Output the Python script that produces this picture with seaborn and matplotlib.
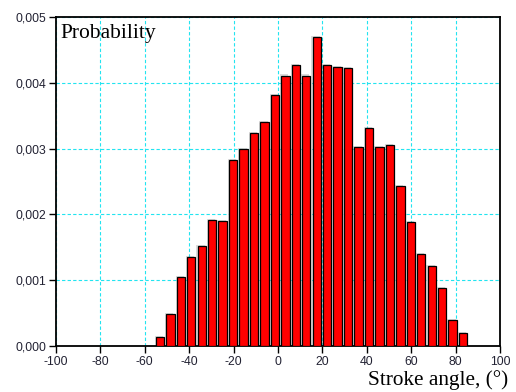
import matplotlib
matplotlib.use("Agg")
import matplotlib.pyplot as plt
import matplotlib.patheffects as pe
import seaborn as sns
import pandas as pd
from matplotlib.ticker import FuncFormatter

# Data (bin centers in degrees, probability)
angles = [-53.2, -48.49, -43.78, -39.07, -34.36, -29.65, -24.94, -20.23, -15.52, -10.81,
          -6.10, -1.39, 3.32, 8.03, 12.74, 17.45, 22.16, 26.87, 31.58, 36.29,
          41.00, 45.71, 50.42, 55.13, 59.84, 64.55, 69.26, 73.97, 78.68, 83.39]
probability = [0.000132, 0.00048, 0.00105, 0.00135, 0.00152, 0.00192, 0.00190, 0.00283, 0.00299, 0.00324,
               0.00340, 0.00382, 0.00411, 0.00427, 0.00411, 0.00469, 0.00427, 0.00424, 0.00422, 0.00302,
               0.00331, 0.00302, 0.00306, 0.00243, 0.00188, 0.00140, 0.00121, 0.00088, 0.00040, 0.000197]
x_ticks = [-100, -80, -60, -40, -20, 0, 20, 40, 60, 80, 100]
y_ticks = [0.000, 0.001, 0.002, 0.003, 0.004, 0.005]

df = pd.DataFrame({"angle": angles, "prob": probability})

sns.set_style("white")
plt.rcParams["font.family"] = ["Liberation Sans", "DejaVu Sans"]

fig = plt.figure(figsize=(5.16, 3.92), dpi=100)
ax = fig.add_axes([56/516, 1-346/392, 444/516, 329/392])

sns.barplot(data=df, x="angle", y="prob", native_scale=True, width=0.8,
            color="#ff0000", saturation=1, edgecolor="black", linewidth=0.9,
            ax=ax, zorder=3)
for p in ax.patches:
    p.set_path_effects([pe.SimplePatchShadow(offset=(-0.8, 0.8), shadow_rgbFace="#999999", alpha=0.35),
                        pe.Normal()])

ax.set_xlim(-100, 100)
ax.set_ylim(0, 0.005)
ax.set_xticks(x_ticks)
ax.set_yticks(y_ticks)
ax.yaxis.set_major_formatter(FuncFormatter(lambda v, _: f"{v:.3f}".replace(".", ",")))
ax.xaxis.set_major_formatter(FuncFormatter(lambda v, _: f"{int(round(v))}"))

ax.grid(True, color="#22e4f0", linestyle=(0, (3, 2)), linewidth=0.8, zorder=0)
ax.set_axisbelow(True)

for s in ax.spines.values():
    s.set_visible(True)
    s.set_color("black")
    s.set_linewidth(1.3)

ax.tick_params(axis="both", which="both", direction="out", length=5, width=1.0,
               color="black", labelsize=8.8, labelcolor="#222233", pad=2,
               bottom=True, left=True, top=False, right=False)

ax.set_xlabel("")
ax.set_ylabel("")

fig.text(60/516, 1-38/392, "Probability", ha="left", va="baseline",
         fontsize=15.5, family=["Liberation Serif", "DejaVu Serif"], color="black")
fig.text(508/516, 1-385/392, "Stroke angle, (°)", ha="right", va="baseline",
         fontsize=15.3, family=["Liberation Serif", "DejaVu Serif"], color="black")

fig.savefig("out.png", dpi=100)
